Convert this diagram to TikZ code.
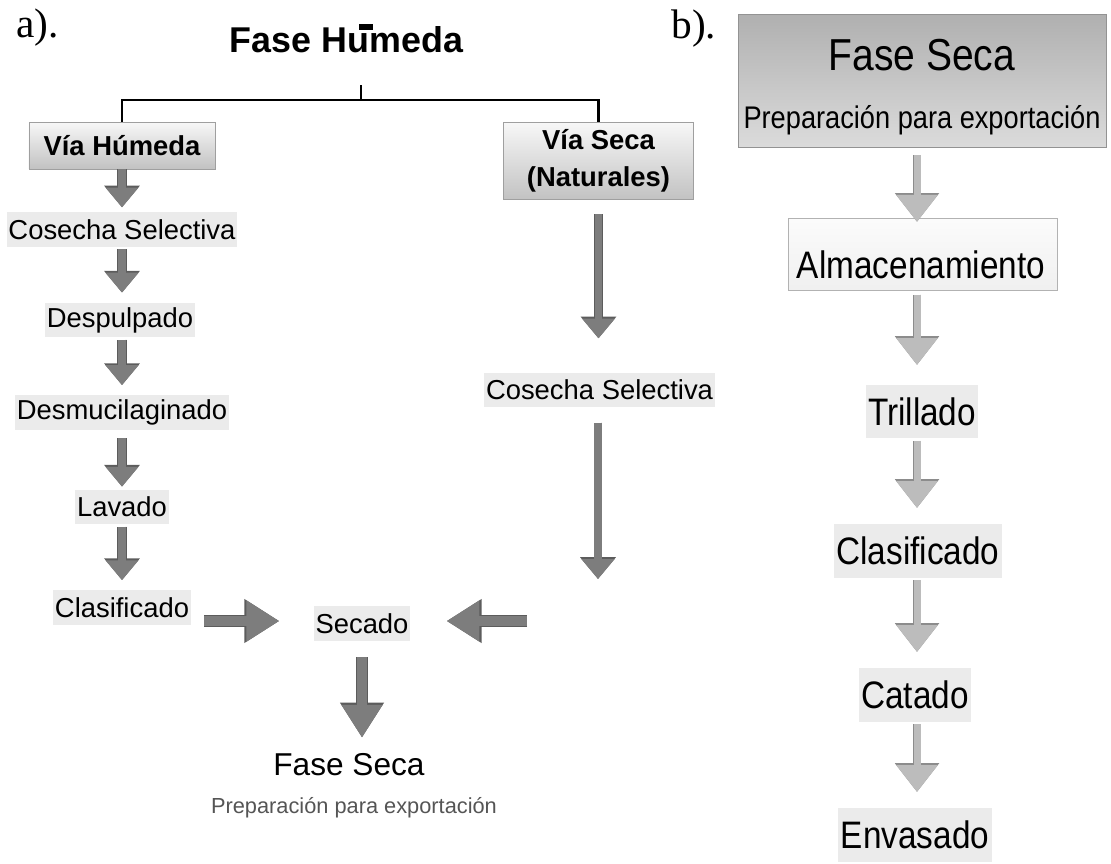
\documentclass[tikz,border=0pt]{standalone}
\usepackage{fontspec}
\setmainfont{Liberation Sans}
\newfontfamily\serifmark{Liberation Serif}
\newfontfamily\narrowsans[FakeStretch=0.87]{Liberation Sans}
\usepackage{xcolor}
\usepackage{tikz}
\usetikzlibrary{arrows.meta, positioning, calc}
\definecolor{stepgray}{RGB}{235,235,235}
\definecolor{darkfill}{RGB}{125,125,125}
\definecolor{darkedge}{RGB}{92,92,92}
\definecolor{lightfill}{RGB}{188,188,188}
\definecolor{lightedge}{RGB}{140,140,140}
\definecolor{subgray}{RGB}{85,85,85}

\begin{document}
\begin{tikzpicture}[x=0.02cm, y=-0.02cm,
    leftstep/.style={fill=stepgray, inner xsep=1.1pt, inner ysep=0pt, minimum height=19.8pt,
        font=\fontsize{15.6}{18}\selectfont},
    rightstep/.style={fill=stepgray, inner xsep=1.4pt, inner ysep=0pt, minimum height=30.6pt,
        font=\narrowsans\fontsize{21.8}{26}\selectfont},
    viabox/.style={draw=gray!75, top color=gray!6, bottom color=gray!48, inner sep=0pt,
        font=\fontsize{15.6}{21}\selectfont\bfseries, align=center},
    stepflow/.style={draw=darkfill, line width=5.1pt, -{Triangle[width=18.1pt,length=11.3pt]},
        preaction={draw=darkedge, line width=6pt, -{Triangle[width=19.6pt,length=12.4pt]}}},
    longflow/.style={draw=darkfill, line width=4pt, -{Triangle[width=18.1pt,length=11.3pt]},
        preaction={draw=darkedge, line width=4.9pt, -{Triangle[width=19.6pt,length=12.4pt]}}},
    mergeflow/.style={draw=darkfill, line width=5.6pt, -{Triangle[width=22.1pt,length=18.7pt]},
        preaction={draw=darkedge, line width=6.5pt, -{Triangle[width=23.6pt,length=19.9pt]}}},
    dryflow/.style={draw=lightfill, line width=4pt, -{Triangle[width=22.7pt,length=15.3pt]},
        preaction={draw=lightedge, line width=4.9pt, -{Triangle[width=24.2pt,length=16.4pt]}}},
]
\useasboundingbox (0,0) rectangle (1111,863);

% panel a) -- wet phase
\node[anchor=base west, inner sep=0pt, font=\serifmark\fontsize{23.5}{26}\selectfont] (tagA) at (16,37) {a).};
\node[anchor=base, inner sep=0pt, font=\fontsize{20.4}{24}\selectfont\bfseries] (title) at (346.5,52) {Fase Humeda};
\fill (359,24) rectangle (373,30);

\node[viabox, minimum width=106pt, minimum height=26.6pt] (humBox) at (122,145.5) {Vía Húmeda};
\node[viabox, minimum width=108.3pt, minimum height=44.2pt] (secBox) at (598.5,161) {Vía Seca\\(Naturales)};

\coordinate (split) at (361,100);
\draw[line width=1.2pt] (humBox.north) |- (split) -| (secBox.north);
\draw[line width=1.2pt] (split) -- ++(0,-15);

\node[leftstep] (cos1) at (122,229.5) {Cosecha Selectiva};
\node[leftstep] (desp) at (120,320) {Despulpado};
\node[leftstep] (desm) at (122,412.5) {Desmucilaginado};
\node[leftstep] (lav)  at (122,507) {Lavado};
\node[leftstep] (clas) at (122,607.5) {Clasificado};

\draw[stepflow, shorten >=2.5pt] (humBox.south) -- (cos1.north);
\foreach \a/\b in {cos1/desp, lav/clas}
    \draw[stepflow, shorten <=1pt, shorten >=5.5pt] (\a.south) -- (\a.south |- \b.north);
\draw[stepflow, shorten <=1pt, shorten >=5.5pt] (desp.south -| cos1) -- (desm.north);
\draw[stepflow, shorten <=4.5pt, shorten >=1.5pt] (desm.south) -- (lav.north);

% dry way (naturales)
\node[leftstep] (cos2) at (599.5,390) {Cosecha Selectiva};
\coordinate (seEnd) at (598,579);
\coordinate (seStart) at (527,621);
\draw[longflow, shorten <=8pt, shorten >=19.3pt] (secBox.south) -- (secBox.south |- cos2.north);
\draw[longflow, shorten <=8.5pt] (cos2.south -| seEnd) -- (seEnd);

% both ways meet at drying
\node[leftstep] (secado) at (362,623.5) {Secado};
\draw[mergeflow, shorten <=7.4pt, shorten >=19.3pt] (clas.east |- seStart) -- (seStart -| secado.west);
\draw[mergeflow, shorten >=20.4pt] (seStart) -- (seStart -| secado.east);

\node[anchor=base, inner sep=0pt, font=\fontsize{18}{22}\selectfont] (faseL) at (349,775) {Fase Seca};
\node[anchor=base, inner sep=0pt, text=subgray, font=\fontsize{12.4}{15}\selectfont] (prepL) at (354,813) {Preparación para exportación};
\draw[mergeflow, shorten <=9pt, shorten >=8.5pt] (secado.south) -- (secado.south |- faseL.north);

% panel b) -- dry phase
\node[anchor=base west, inner sep=0pt, font=\serifmark\fontsize{23.5}{26}\selectfont] (tagB) at (671,38) {b).};
\node[draw=gray!85, top color=gray!62, bottom color=gray!28, minimum width=209.2pt, minimum height=76pt] (secaBox) at (922.5,81) {};
\node[anchor=base, inner sep=0pt, font=\narrowsans\fontsize{25.5}{30}\selectfont] (secaTitle) at (922,70) {Fase Seca};
\node[anchor=base, inner sep=0pt, font=\narrowsans\fontsize{17.8}{21}\selectfont] (secaSub) at (922,128) {Preparación para exportación};

\node[draw=gray!60, top color=gray!3, bottom color=gray!12, minimum width=153.1pt, minimum height=40.8pt] (alm) at (923,254) {};
\node[anchor=base, inner sep=0pt, font=\narrowsans\fontsize{21.8}{26}\selectfont] (almText) at (921,278) {Almacenamiento};

\node[rightstep] (tri)   at (922,411.5) {Trillado};
\node[rightstep] (clas2) at (918,551) {Clasificado};
\node[rightstep] (cat)   at (915,695) {Catado};
\node[rightstep] (env)   at (915,835) {Envasado};

\coordinate (colB) at (917,0);
\draw[dryflow, shorten <=4pt, shorten >=-2.3pt] (secaBox.south -| colB) -- (alm.north -| colB);
\draw[dryflow, shorten <=2.5pt, shorten >=11pt] (alm.south -| colB) -- (tri.north -| colB);
\foreach \a/\b in {tri/clas2, clas2/cat, cat/env}
    \draw[dryflow, shorten <=1.2pt, shorten >=9pt] (\a.south -| colB) -- (\b.north -| colB);
\end{tikzpicture}
\end{document}
